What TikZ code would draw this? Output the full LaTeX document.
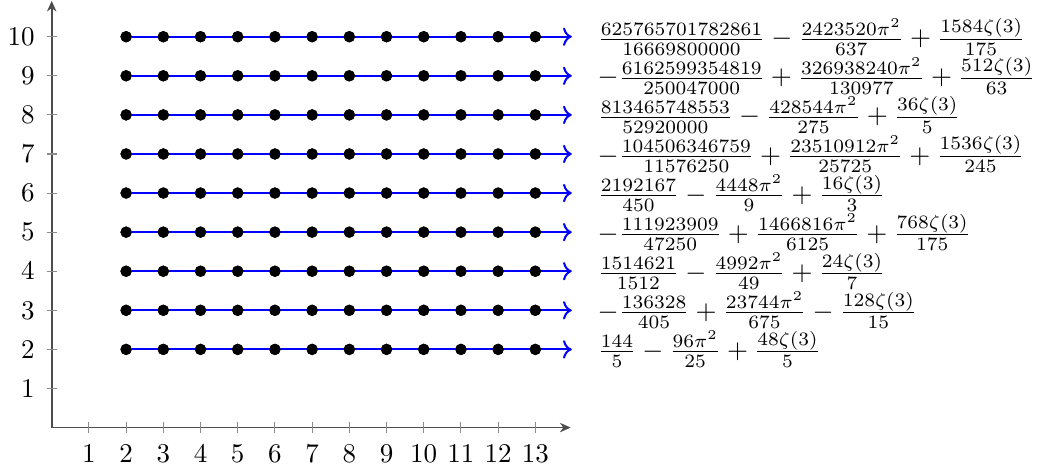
\documentclass[tikz,border=0pt]{standalone}
\usepackage{amsmath,amssymb,amsfonts}
\usepackage{xcolor}
\usepackage{tikz}
\usetikzlibrary{arrows.meta,positioning}

\begin{document}
\begin{tikzpicture}[x=0.4844cm,y=0.5089cm,
  dot/.style={circle,fill=black,inner sep=0pt,minimum size=4.2pt},
  axisline/.style={black!70,line width=0.6pt,-{Stealth[length=4pt,width=3.5pt]}},
  tickmark/.style={black!45,line width=0.4pt},
  row/.style={blue,line width=0.75pt,->}]
  \useasboundingbox (-1.39,-1.139) rectangle (27.13,10.94);

  % Axes
  \coordinate (o) at (0,0);
  \coordinate (xend) at (13.95,0);
  \coordinate (yend) at (0,10.92);
  \draw[axisline] (o) -- (xend);
  \draw[axisline] (o) -- (yend);

  % Ticks and labels
  \foreach \i in {1,...,13}{
    \draw[tickmark] (\i,-0.13) -- (\i,0.13);
    \node[below=2.8pt] (xl\i) at (\i,0) {$\i$};
  }
  \foreach \j in {1,...,10}{
    \draw[tickmark] (-0.14,\j) -- (0.14,\j);
    \node[left=2.8pt] (yl\j) at (0,\j) {$\j$};
  }

  % Rows of points
  \foreach \j in {2,...,10}{
    \coordinate (e\j) at (13.98,\j);
    \foreach \i in {2,...,13}
      \node[dot] (d\i-\j) at (\i,\j) {};
    \draw[row] (d2-\j) -- (e\j);
    \foreach \i in {2,...,13}
      \node[dot] at (d\i-\j) {};
  }

  % Values
  \node[right=6pt of e10] (v10) {$\frac{625765701782861}{16669800000}-\frac{2423520\pi^2}{637}+\frac{1584\zeta(3)}{175}$};
  \node[right=6pt of e9] (v9) {$-\frac{6162599354819}{250047000}+\frac{326938240\pi^2}{130977}+\frac{512\zeta(3)}{63}$};
  \node[right=6pt of e8] (v8) {$\frac{813465748553}{52920000}-\frac{428544\pi^2}{275}+\frac{36\zeta(3)}{5}$};
  \node[right=6pt of e7] (v7) {$-\frac{104506346759}{11576250}+\frac{23510912\pi^2}{25725}+\frac{1536\zeta(3)}{245}$};
  \node[right=6pt of e6] (v6) {$\frac{2192167}{450}-\frac{4448\pi^2}{9}+\frac{16\zeta(3)}{3}$};
  \node[right=6pt of e5] (v5) {$-\frac{111923909}{47250}+\frac{1466816\pi^2}{6125}+\frac{768\zeta(3)}{175}$};
  \node[right=6pt of e4] (v4) {$\frac{1514621}{1512}-\frac{4992\pi^2}{49}+\frac{24\zeta(3)}{7}$};
  \node[right=6pt of e3] (v3) {$-\frac{136328}{405}+\frac{23744\pi^2}{675}-\frac{128\zeta(3)}{15}$};
  \node[right=6pt of e2] (v2) {$\frac{144}{5}-\frac{96\pi^2}{25}+\frac{48\zeta(3)}{5}$};

\end{tikzpicture}
\end{document}
